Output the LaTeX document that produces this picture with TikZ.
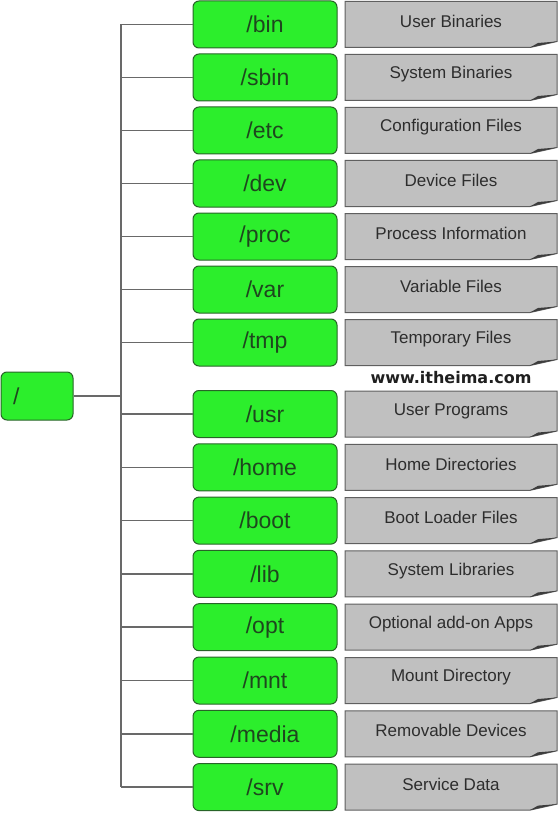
\documentclass[tikz,border=0pt]{standalone}
\usepackage{fontspec}
\setmainfont{Liberation Sans}
\newfontfamily\wmfont{DejaVu Sans}
\definecolor{gfill}{RGB}{44,238,44}
\definecolor{gline}{RGB}{40,100,40}
\definecolor{gtext}{RGB}{30,70,30}
\definecolor{pfill}{RGB}{192,192,192}
\definecolor{pline}{RGB}{95,95,95}
\definecolor{pfold}{RGB}{60,60,60}
\definecolor{ptext}{RGB}{45,45,45}
\definecolor{conn}{RGB}{105,105,105}
\begin{document}
\begin{tikzpicture}[x=1pt,y=-1pt,
  dirbox/.style={draw=gline, line width=1pt, fill=gfill, rounded corners=6pt,
    minimum width=144pt, minimum height=47pt, inner sep=0pt,
    font=\fontsize{23}{23}\selectfont, text=gtext},
  rootbox/.style={dirbox, minimum width=72pt, minimum height=48pt,
    text width=48pt, align=left, inner xsep=12pt},
  desc/.style={inner sep=0pt, font=\fontsize{17}{17}\selectfont, text=ptext},
  paper/.style={fill=pfill, draw=pline, line width=1pt},
  link/.style={draw=conn, line width=1.5pt}]
\useasboundingbox (0,0) rectangle (558,813);
\node[rootbox] (root) at (37,396) {/};
\coordinate (trunk) at (121,396);
\foreach \n/\d/\y in {bin/User Binaries/24.5, sbin/System Binaries/77.5,
  etc/Configuration Files/130.5, dev/Device Files/183.5,
  proc/Process Information/236.5, var/Variable Files/289.5,
  tmp/Temporary Files/342.5, usr/User Programs/414,
  home/Home Directories/467.3, boot/Boot Loader Files/520.6,
  lib/System Libraries/573.9, opt/Optional add-on Apps/627.2,
  mnt/Mount Directory/680.5, media/Removable Devices/733.8,
  srv/Service Data/787.1}{
  \node[dirbox] (\n) at (265,\y) {/\n};
  \path[paper] (345,\y-23) -- (557,\y-23) -- (557,\y+17) -- (530,\y+23) -- (345,\y+23) -- cycle;
  \fill[pfold] (530,\y+23) -- (538,\y+18.5) -- (557,\y+17) -- (541,\y+20.5) -- cycle;
  \node[desc] (\n-d) at (451,\y-3) {\d};
  \draw[link] (\n.west -| trunk) -- (\n.west);
}
\draw[link] (bin.west -| trunk) -- (srv.west -| trunk);
\draw[link] (root.east) -- (trunk);
\node[font=\wmfont\bfseries\fontsize{16}{16}\selectfont, text=black!88, inner sep=0pt] (wm) at (451,378) {www.itheima.com};
\end{tikzpicture}
\end{document}
